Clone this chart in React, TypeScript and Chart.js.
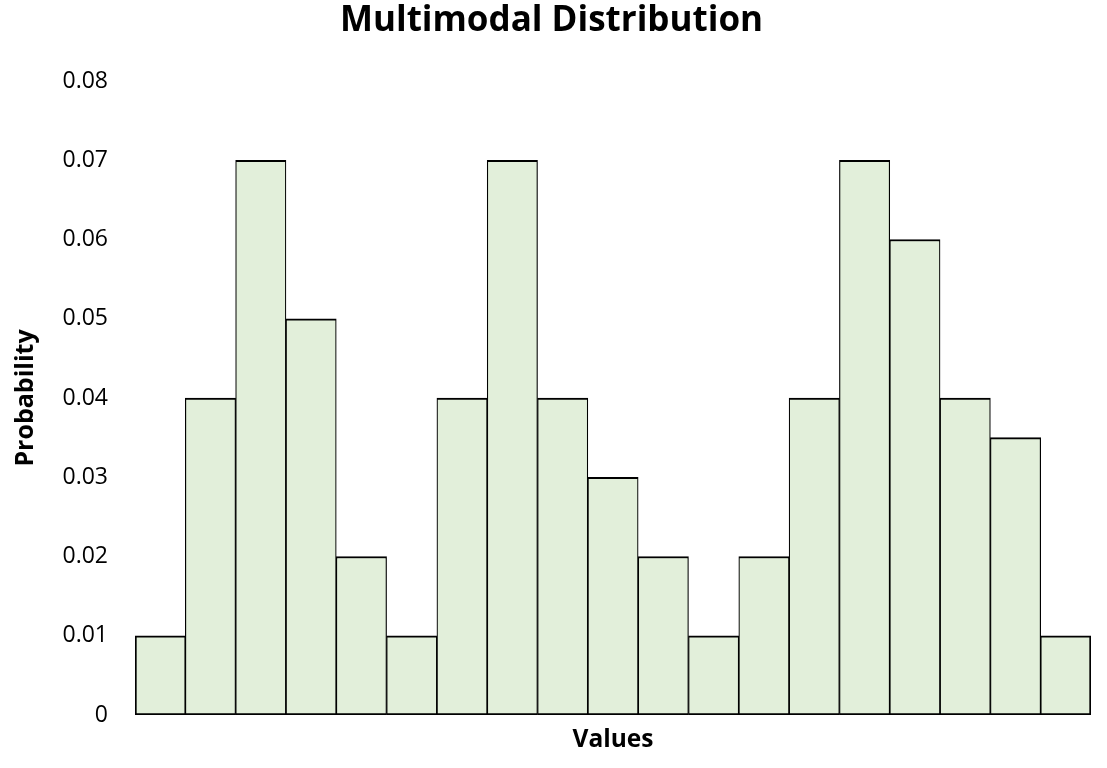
// App.tsx
import React, { useRef, useEffect } from "react";
import Chart from "chart.js/auto";

// bin labels are not shown on the axis, one per bar
const bins: string[] = [
  "1", "2", "3", "4", "5", "6", "7", "8", "9", "10",
  "11", "12", "13", "14", "15", "16", "17", "18", "19",
];
const probability: number[] = [
  0.01, 0.04, 0.07, 0.05, 0.02, 0.01, 0.04, 0.07, 0.04, 0.03,
  0.02, 0.01, 0.02, 0.04, 0.07, 0.06, 0.04, 0.035, 0.01,
];
const yTicks: number[] = [0, 0.01, 0.02, 0.03, 0.04, 0.05, 0.06, 0.07, 0.08];

const FONT = "'Open Sans', 'Noto Sans', sans-serif";

const App: React.FC = () => {
  const canvasRef = useRef<HTMLCanvasElement | null>(null);

  useEffect(() => {
    document.body.style.margin = "0";
    if (!canvasRef.current) return;
    const n = probability.length;

    const chart = new Chart(canvasRef.current, {
      type: "bar",
      data: {
        labels: bins,
        datasets: [
          {
            label: "Probability",
            data: probability,
            backgroundColor: "#E2EFDA",
            borderColor: "#000000",
            borderSkipped: false,
            borderWidth: (ctx: any) => ({
              top: 2,
              bottom: 2,
              left: ctx.dataIndex === 0 ? 2 : 1.2,
              right: ctx.dataIndex === n - 1 ? 2 : 1.2,
            }),
            categoryPercentage: 1,
            barPercentage: 1,
          },
        ],
      },
      options: {
        animation: false,
        responsive: true,
        maintainAspectRatio: false,
        layout: { padding: { left: 12, right: 16, top: 0, bottom: 0 } },
        plugins: {
          legend: { display: false },
          tooltip: { enabled: false },
          title: {
            display: true,
            text: "Multimodal Distribution",
            color: "#000",
            font: { family: FONT, size: 35, weight: "bold" },
            padding: { top: 0, bottom: 39 },
          },
        },
        scales: {
          x: {
            grid: { display: false, drawTicks: false },
            border: { display: false },
            ticks: { display: false },
            title: {
              display: true,
              text: "Values",
              color: "#000",
              font: { family: FONT, size: 24.5, weight: "bold" },
              padding: { top: 4, bottom: 13 },
            },
            afterFit: (scale: any) => {
              scale.height = 53;
            },
          },
          y: {
            min: 0,
            max: 0.08,
            grid: { display: false, drawTicks: false },
            border: { display: false },
            afterBuildTicks: (scale: any) => {
              scale.ticks = yTicks.map((v) => ({ value: v }));
            },
            ticks: {
              color: "#000",
              padding: 27,
              font: { family: FONT, size: 23 },
              callback: (v: any) => (Number(v) === 0 ? "0" : Number(v).toFixed(2)),
            },
            title: {
              display: true,
              text: "Probability",
              color: "#000",
              font: { family: FONT, size: 25, weight: "bold" },
              padding: { top: -1, bottom: 0 },
            },
            afterFit: (scale: any) => {
              scale.width = 123;
            },
          },
        },
      },
    });

    return () => chart.destroy();
  }, []);

  return (
    <div style={{ width: 1107, height: 768, position: "relative" }}>
      <canvas ref={canvasRef} />
    </div>
  );
};

export default App;
